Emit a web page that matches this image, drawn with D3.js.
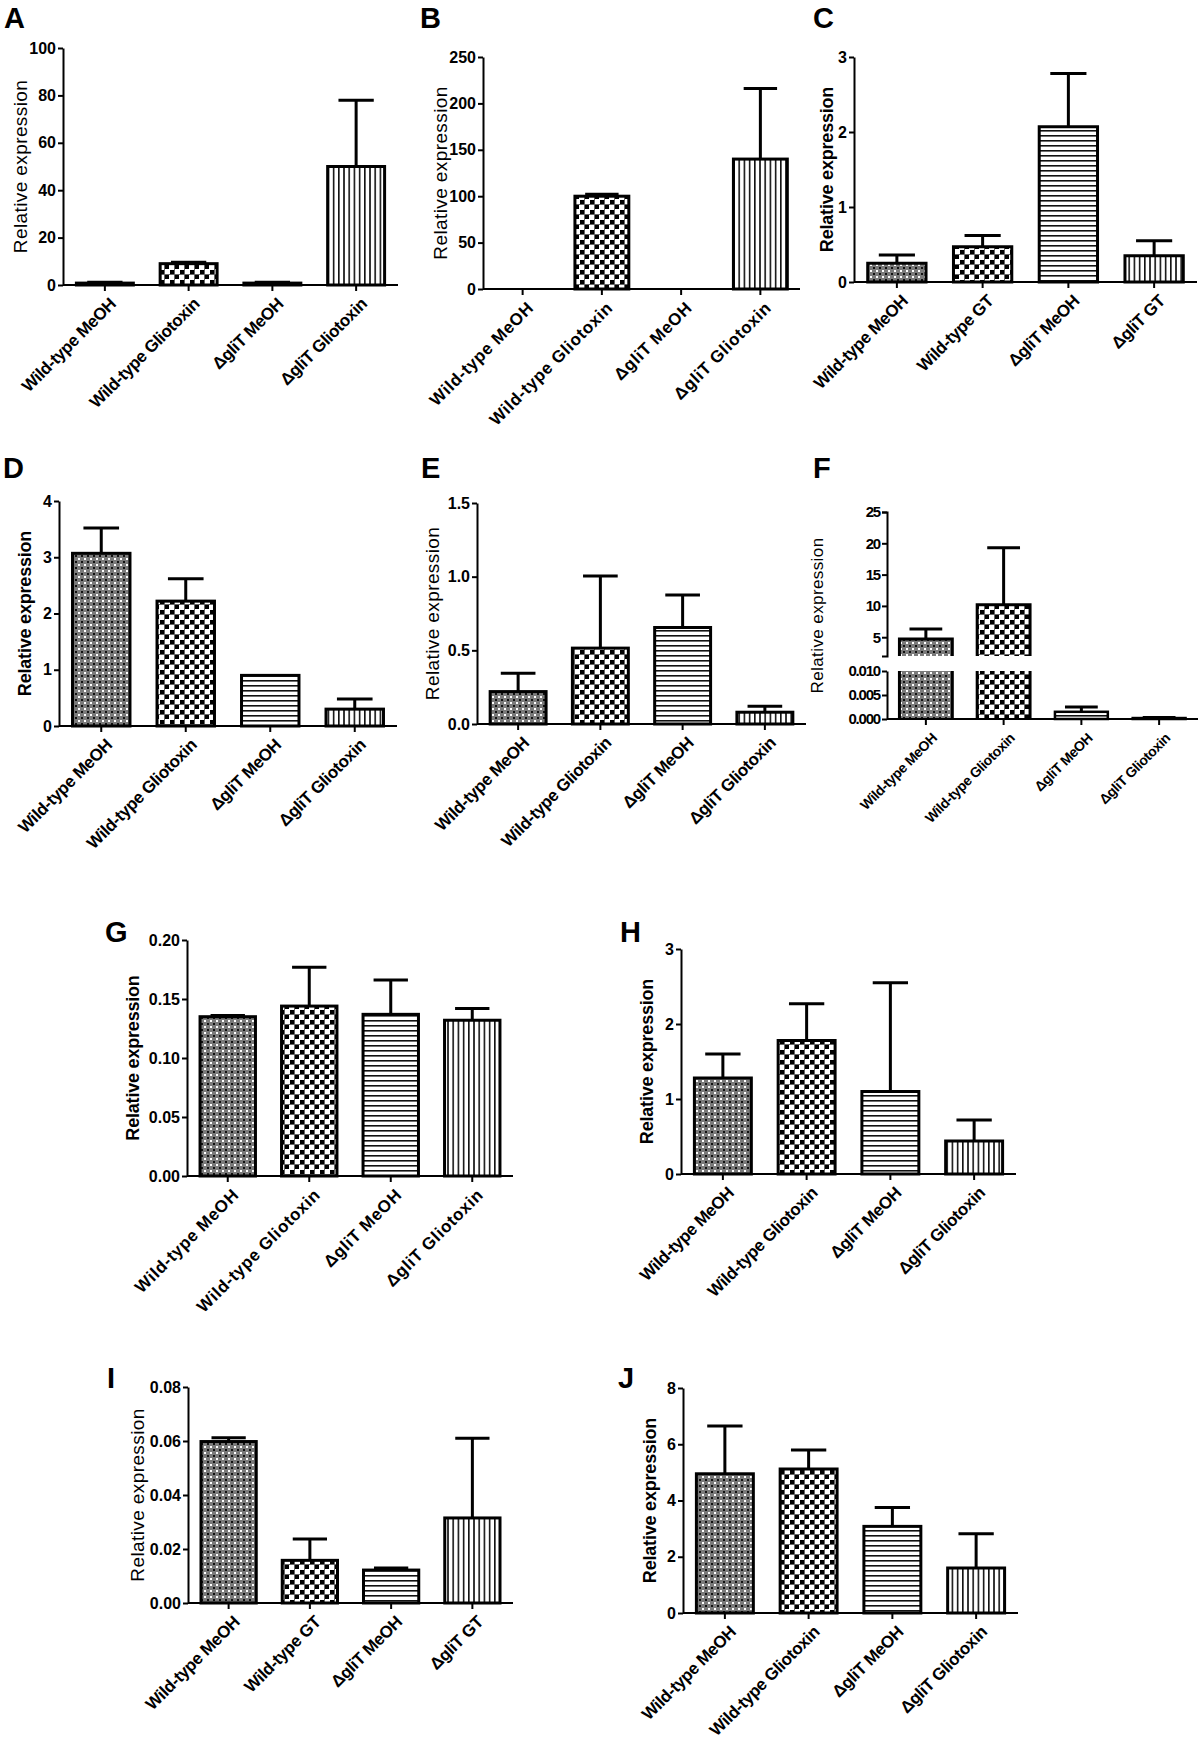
<!DOCTYPE html>
<html><head><meta charset="utf-8">
<script src="https://cdn.jsdelivr.net/npm/d3@7"></script>
<style>body{margin:0;background:#fff}text{font-family:"Liberation Sans",Arial,sans-serif}</style>
</head><body>
<svg id="c" width="1200" height="1744" xmlns="http://www.w3.org/2000/svg"></svg>
<script>
// ---------- data ----------
const catsGlio = ["Wild-type MeOH", "Wild-type Gliotoxin", "ΔgliT MeOH", "ΔgliT Gliotoxin"];
const catsGT = ["Wild-type MeOH", "Wild-type GT", "ΔgliT MeOH", "ΔgliT GT"];

const meanA = [0.8, 9.0, 0.8, 50.0],   errA = [1.2, 9.6, 1.2, 78.0];   const ticksA = [0, 20, 40, 60, 80, 100];
const meanB = [0, 100, 0, 140],        errB = [0, 102, 0, 216];        const ticksB = [0, 50, 100, 150, 200, 250];
const meanC = [0.25, 0.47, 2.07, 0.35], errC = [0.36, 0.62, 2.78, 0.55]; const ticksC = [0, 1, 2, 3];
const meanD = [3.07, 2.22, 0.90, 0.30], errD = [3.52, 2.62, 0.90, 0.48]; const ticksD = [0, 1, 2, 3, 4];
const meanE = [0.22, 0.515, 0.655, 0.08], errE = [0.345, 1.005, 0.875, 0.12]; const ticksE = [0.0, 0.5, 1.0, 1.5];
const meanF = [4.7, 10.2, 0.0015, 0.0002], errF = [6.3, 19.3, 0.0025, 0.0003];
const ticksFUpper = [5, 10, 15, 20, 25], ticksFLower = [0.000, 0.005, 0.010];
const meanG = [0.135, 0.144, 0.137, 0.132], errG = [0.136, 0.177, 0.166, 0.142]; const ticksG = [0.00, 0.05, 0.10, 0.15, 0.20];
const meanH = [1.28, 1.78, 1.10, 0.44], errH = [1.60, 2.27, 2.55, 0.72]; const ticksH = [0, 1, 2, 3];
const meanI = [0.0598, 0.0158, 0.0122, 0.0315], errI = [0.0612, 0.0237, 0.0130, 0.0610]; const ticksI = [0.00, 0.02, 0.04, 0.06, 0.08];
const meanJ = [4.95, 5.12, 3.08, 1.60], errJ = [6.65, 5.80, 3.75, 2.82]; const ticksJ = [0, 2, 4, 6, 8];
const yTitle = "Relative expression";

// ---------- layout ----------
const panels = [
 {id:"A", cats:catsGlio, mean:meanA, err:errA, ticks:ticksA, fmt:"d",   L:63,  R:398,  T:48,  B:285,  lx:4,   ly:28,   yl:20,  ylBold:false, xlBold:true},
 {id:"B", cats:catsGlio, mean:meanB, err:errB, ticks:ticksB, fmt:"d",   L:483, R:800,  T:57,  B:289,  lx:420, ly:28,   yl:440, ylBold:false, xlBold:true, spaced:true},
 {id:"C", cats:catsGT,   mean:meanC, err:errC, ticks:ticksC, fmt:"d",   L:854, R:1197, T:57,  B:282,  lx:813, ly:28,   yl:827, ylBold:true,  xlBold:true},
 {id:"D", cats:catsGlio, mean:meanD, err:errD, ticks:ticksD, fmt:"d",   L:59,  R:397,  T:501, B:726,  lx:3,   ly:478,  yl:25,  ylBold:true,  xlBold:true},
 {id:"E", cats:catsGlio, mean:meanE, err:errE, ticks:ticksE, fmt:".1f", L:477, R:806,  T:503, B:724,  lx:421, ly:478,  yl:432, ylBold:false, xlBold:true},
 {id:"G", cats:catsGlio, mean:meanG, err:errG, ticks:ticksG, fmt:".2f", L:187, R:513,  T:940, B:1176, lx:105, ly:942,  yl:133, ylBold:true,  xlBold:true, spaced:true},
 {id:"H", cats:catsGlio, mean:meanH, err:errH, ticks:ticksH, fmt:"d",   L:681, R:1016, T:949, B:1174, lx:620, ly:942,  yl:647, ylBold:true,  xlBold:true},
 {id:"I", cats:catsGT,   mean:meanI, err:errI, ticks:ticksI, fmt:".2f", L:188, R:513,  T:1387,B:1603, lx:107, ly:1388, yl:137, ylBold:false, xlBold:true},
 {id:"J", cats:catsGlio, mean:meanJ, err:errJ, ticks:ticksJ, fmt:"d",   L:683, R:1018, T:1388,B:1613, lx:618, ly:1388, yl:650, ylBold:true,  xlBold:true}
];
const panelF = {id:"F", cats:catsGlio, mean:meanF, err:errF, L:887, R:1198, TU:512, BU:656, TL:671, BL:719, lx:813, ly:478, yl:817};

const svg = d3.select("#c");
svg.append("rect").attr("width",1200).attr("height",1744).attr("fill","#fff");

// ---------- patterns ----------
const defs = svg.append("defs");
const p1 = defs.append("pattern").attr("id","pat0").attr("patternUnits","userSpaceOnUse").attr("width",6).attr("height",6);
p1.append("rect").attr("width",6).attr("height",6).attr("fill","#7a7a7a");
p1.append("rect").attr("x",0).attr("y",0).attr("width",2).attr("height",2).attr("fill","#fff");
p1.append("rect").attr("x",3).attr("y",3).attr("width",2).attr("height",2).attr("fill","#111");
const p2 = defs.append("pattern").attr("id","pat1").attr("patternUnits","userSpaceOnUse").attr("width",10).attr("height",10);
p2.append("rect").attr("width",10).attr("height",10).attr("fill","#fff");
p2.append("rect").attr("x",0).attr("y",0).attr("width",4).attr("height",4).attr("fill","#000");
p2.append("rect").attr("x",5).attr("y",5).attr("width",4).attr("height",4).attr("fill","#000");
p2.append("path").attr("d","M0,4.5 H10 M4.5,0 V10").attr("stroke","#666").attr("stroke-width",1);
const p3 = defs.append("pattern").attr("id","pat2").attr("patternUnits","userSpaceOnUse").attr("width",5).attr("height",5);
p3.append("rect").attr("width",5).attr("height",5).attr("fill","#fff");
p3.append("rect").attr("x",0).attr("y",0).attr("width",5).attr("height",1.6).attr("fill","#111");
const p4 = defs.append("pattern").attr("id","pat3").attr("patternUnits","userSpaceOnUse").attr("width",5.2).attr("height",5);
p4.append("rect").attr("width",5.2).attr("height",5).attr("fill","#fff");
p4.append("rect").attr("x",0).attr("y",0).attr("width",1.6).attr("height",5).attr("fill","#111");

const FONT = '"Liberation Sans", Arial, sans-serif';

function styleAxis(g){
  g.selectAll("path,line").attr("stroke","#000").attr("stroke-width",2);
  g.selectAll("text").attr("font-family",FONT).attr("font-weight","bold").attr("font-size",16).attr("fill","#000");
}

function drawLetter(p){
  svg.append("text").attr("x",p.lx).attr("y",p.ly).text(p.id)
    .attr("font-family",FONT).attr("font-weight","bold").attr("font-size",29);
}
function drawYTitle(p, bold, size, cy){
  svg.append("text").attr("transform",`translate(${p.yl},${cy}) rotate(-90)`)
    .attr("text-anchor","middle").attr("dy","0.35em")
    .attr("font-family",FONT).attr("font-weight",bold?"bold":"normal").attr("font-size",size)
    .attr("letter-spacing", bold ? "-0.2px" : "0.4px")
    .text(yTitle);
}
function drawXAxis(p, x, y0, size){
  const g = svg.append("g").attr("transform",`translate(0,${y0})`)
    .call(d3.axisBottom(x).tickSize(6).tickSizeOuter(0).tickFormat(""));
  styleAxis(g);
  g.select(".domain").attr("d",`M${p.L},0H${p.R}`);
  svg.append("g").selectAll("text").data(p.cats).join("text")
    .attr("transform",d=>`translate(${x(d)+x.bandwidth()/2+12},${y0+20}) rotate(-45)`)
    .attr("text-anchor","end")
    .attr("font-family",FONT).attr("font-weight",p.xlBold?"bold":"normal").attr("font-size",size)
    .attr("letter-spacing", p.spaced ? "0.6px" : "-0.4px")
    .text(d=>d);
}
function errBar(cx, yTop, yErr, bw){
  const cw = bw*0.62;
  svg.append("path").attr("d",`M${cx},${yTop}V${yErr}M${cx-cw/2},${yErr}H${cx+cw/2}`)
    .attr("stroke","#000").attr("stroke-width",3).attr("fill","none");
}

panels.forEach(p=>{
  const x = d3.scaleBand().domain(p.cats).range([p.L,p.R]).paddingInner(0.32).paddingOuter(0.16);
  const y = d3.scaleLinear().domain([0, d3.max(p.ticks)]).range([p.B,p.T]);
  drawLetter(p);
  const bw = x.bandwidth();
  p.cats.forEach((c,i)=>{
    if (p.err[i] > 0) errBar(x(c)+bw/2, y(p.mean[i]), y(p.err[i]), bw);
  });
  p.cats.forEach((c,i)=>{
    if (p.mean[i] <= 0) return;
    svg.append("rect").attr("x",x(c)).attr("y",y(p.mean[i])).attr("width",bw)
      .attr("height",y(0)-y(p.mean[i])).attr("fill",`url(#pat${i})`)
      .attr("stroke","#000").attr("stroke-width",3);
  });
  const ya = svg.append("g").attr("transform",`translate(${p.L},0)`)
    .call(d3.axisLeft(y).tickValues(p.ticks).tickSize(5).tickSizeOuter(0).tickPadding(2).tickFormat(d3.format(p.fmt)));
  styleAxis(ya);
  drawXAxis(p, x, p.B, 17);
  drawYTitle(p, p.ylBold, p.ylBold ? 18 : 19, (p.T+p.B)/2);
});

// ---------- panel F (broken axis) ----------
(function(){
  const p = panelF;
  const x = d3.scaleBand().domain(p.cats).range([p.L,p.R]).paddingInner(0.32).paddingOuter(0.16);
  const yU = d3.scaleLinear().domain([2,25]).range([p.BU,p.TU]);
  const yL = d3.scaleLinear().domain([0,0.010]).range([p.BL,p.TL]);
  const bw = x.bandwidth();
  drawLetter(p);
  p.cats.forEach((c,i)=>{
    const cx = x(c)+bw/2, v = p.mean[i], e = p.err[i];
    if (v > 0.010) {
      errBar(cx, yU(v), yU(e), bw);
      svg.append("rect").attr("x",x(c)).attr("y",yU(v)).attr("width",bw).attr("height",yU.range()[0]-yU(v)).attr("fill",`url(#pat${i})`);
      svg.append("path").attr("d",`M${x(c)},${yU.range()[0]}V${yU(v)}H${x(c)+bw}V${yU.range()[0]}`)
        .attr("stroke","#000").attr("stroke-width",3).attr("fill","none");
      svg.append("rect").attr("x",x(c)).attr("y",yL(0.010)).attr("width",bw).attr("height",yL(0)-yL(0.010)).attr("fill",`url(#pat${i})`);
      svg.append("path").attr("d",`M${x(c)},${yL(0.010)}V${yL(0)}M${x(c)+bw},${yL(0.010)}V${yL(0)}`)
        .attr("stroke","#000").attr("stroke-width",3).attr("fill","none");
    } else {
      errBar(cx, yL(v), yL(e), bw);
      svg.append("rect").attr("x",x(c)).attr("y",yL(v)).attr("width",bw).attr("height",Math.max(0,yL(0)-yL(v)))
        .attr("fill",`url(#pat${i})`).attr("stroke","#000").attr("stroke-width",2.5);
    }
  });
  const gu = svg.append("g").attr("transform",`translate(${p.L},0)`)
    .call(d3.axisLeft(yU).tickValues(ticksFUpper).tickSize(5).tickSizeOuter(5).tickPadding(2).tickFormat(d3.format("d")));
  styleAxis(gu);
  const gl = svg.append("g").attr("transform",`translate(${p.L},0)`)
    .call(d3.axisLeft(yL).tickValues(ticksFLower).tickSize(5).tickSizeOuter(0).tickPadding(2).tickFormat(d3.format(".3f")));
  styleAxis(gl);
  [gu,gl].forEach(g=>g.selectAll("text").attr("font-size",15).attr("letter-spacing","-1.2px"));
  drawXAxis({...p, B:p.BL, xlBold:true}, x, p.BL, 14);
  drawYTitle(p, false, 17, (p.TU+p.BL)/2);
})();
</script>
</body></html>
